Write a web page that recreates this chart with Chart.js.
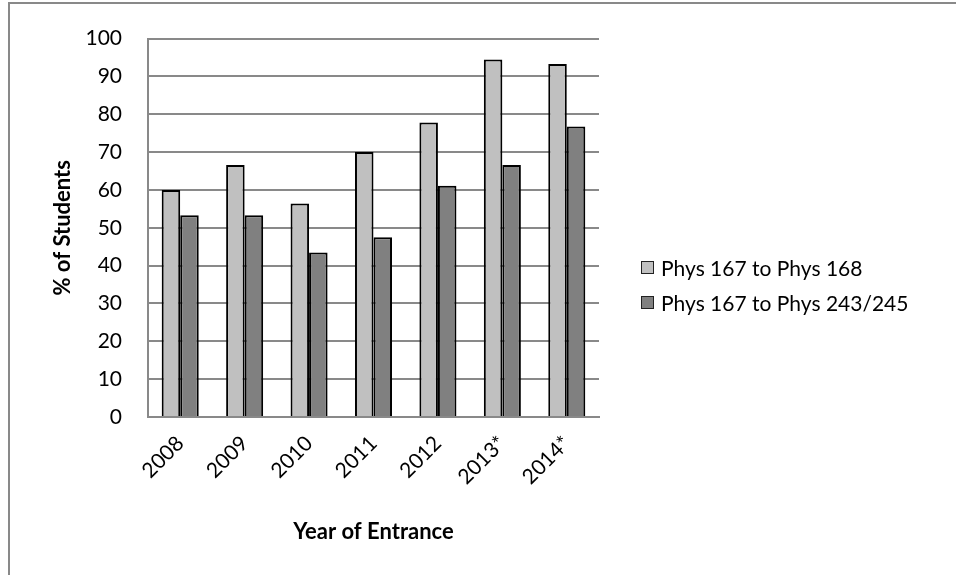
<!DOCTYPE html>
<html>
<head>
<meta charset="utf-8">
<script src="https://cdn.jsdelivr.net/npm/chart.js@4/dist/chart.umd.min.js"></script>
<style>
    html, body {
        margin: 0;
        padding: 0;
        background: #ffffff;
        overflow: hidden;
    }
    #frame {
        position: absolute;
        left: 8px;
        top: 2px;
        width: 1200px;
        height: 800px;
        border-left: 2px solid #898989;
        border-top: 2px solid #898989;
    }
    #chart {
        position: absolute;
        left: 0;
        top: 0;
    }
    #legend {
        position: absolute;
        left: 641px;
        top: 250px;
        font-family: Lato, sans-serif;
        font-size: 21px;
        color: #000;
    }
    .item {
        height: 35px;
        display: flex;
        align-items: center;
    }
    .swatch {
        width: 11px;
        height: 11px;
        border: 1.5px solid #222;
        margin-right: 7px;
    }
</style>
</head>
<body>
<div id="frame"></div>
<canvas id="chart" width="956" height="575"></canvas>
<div id="legend"></div>
<script>
const years = ['2008', '2009', '2010', '2011', '2012', '2013*', '2014*'];
const seriesNames = ['Phys 167 to Phys 168', 'Phys 167 to Phys 243/245'];
const phys168 = [60, 66.6, 56.4, 70, 77.8, 94.5, 93.3];
const phys243 = [53.3, 53.3, 43.5, 47.5, 61.1, 66.6, 76.8];

let lightGray = '#c0c0c0';
let darkGray = '#808080';
let gridGray = '#898989';
let font = 'Lato';

const ctx = document.getElementById('chart').getContext('2d');

const myChart = new Chart(ctx, {
    type: 'bar',
    data: {
        labels: years,
        datasets: [{
            label: seriesNames[0],
            data: phys168,
            backgroundColor: lightGray,
            borderColor: '#000000',
            borderWidth: 2,
            borderSkipped: 'bottom',
        }, {
            label: seriesNames[1],
            data: phys243,
            backgroundColor: darkGray,
            borderColor: '#000000',
            borderWidth: 2,
            borderSkipped: 'bottom',
        }]
    },
    options: {
        responsive: false,
        animation: false,
        datasets: {
            bar: {
                categoryPercentage: 0.575,
                barPercentage: 1.0,
            }
        },
        layout: {
            padding: { left: 40, right: 357, top: 32, bottom: 0 }
        },
        plugins: {
            legend: { display: false },
            tooltip: { enabled: false },
        },
        scales: {
            x: {
                grid: { display: false },
                border: { display: true, color: gridGray, width: 2 },
                ticks: {
                    color: '#000',
                    minRotation: 45,
                    maxRotation: 45,
                    padding: 6,
                    font: { family: font, size: 21 },
                },
                title: {
                    display: true,
                    text: 'Year of Entrance',
                    color: '#000',
                    padding: { top: 0, bottom: 30 },
                    font: { family: font, size: 22, weight: 'bold' },
                },
                afterFit: function (scale) {
                    scale.height = 158;
                },
            },
            y: {
                min: 0,
                max: 100,
                ticks: {
                    stepSize: 10,
                    color: '#000',
                    padding: 26,
                    font: { family: font, size: 21 },
                },
                grid: {
                    color: gridGray,
                    lineWidth: 2,
                    drawTicks: false,
                },
                border: { display: true, color: gridGray, width: 2 },
                title: {
                    display: true,
                    text: '% of Students',
                    color: '#000',
                    padding: { top: 10, bottom: 0 },
                    font: { family: font, size: 22, weight: 'bold' },
                },
                afterFit: function (scale) {
                    scale.width = 108;
                },
            }
        }
    }
});

// legend built from the chart's datasets
const legendEl = document.getElementById('legend');
myChart.data.datasets.forEach(ds => {
    const row = document.createElement('div');
    row.className = 'item';
    const sw = document.createElement('span');
    sw.className = 'swatch';
    sw.style.background = ds.backgroundColor;
    const txt = document.createElement('span');
    txt.textContent = ds.label;
    row.appendChild(sw);
    row.appendChild(txt);
    legendEl.appendChild(row);
});
</script>
</body>
</html>
